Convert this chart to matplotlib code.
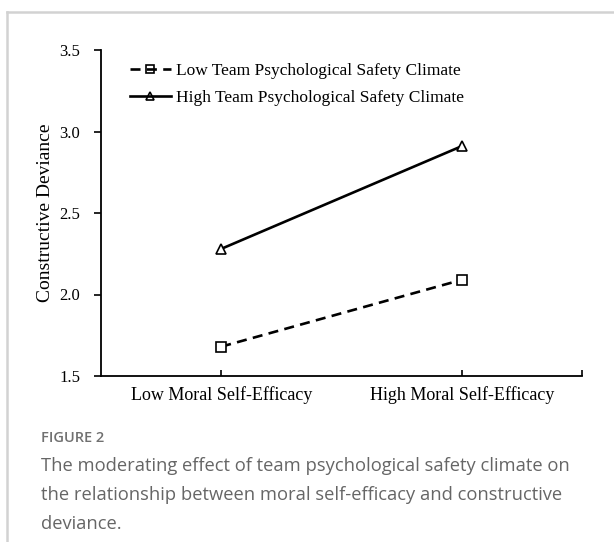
import matplotlib
matplotlib.use("Agg")
from matplotlib import pyplot as plt
from matplotlib.lines import Line2D

# data
categories = ['Low Moral Self-Efficacy', 'High Moral Self-Efficacy']
low_climate = [1.68, 2.09]
high_climate = [2.28, 2.91]
series_names = ['Low Team Psychological Safety Climate',
                'High Team Psychological Safety Climate']
y_ticks = [1.5, 2.0, 2.5, 3.0, 3.5]

W, H = 614, 542
fig = plt.figure(figsize=(W / 100, H / 100), dpi=100)
fig.patch.set_facecolor('white')

# page frame (top and left grey border)
fig.add_artist(Line2D([7 / W, 7 / W], [0, 1 - 12 / H], color='#d2d2d2', lw=1.8))
fig.add_artist(Line2D([7 / W, 1], [1 - 12 / H, 1 - 12 / H], color='#d2d2d2', lw=1.8))

ax = fig.add_axes([101 / W, 1 - 376 / H, (582 - 101) / W, (376 - 50) / H])
x = list(range(len(categories)))

serif = ['Liberation Serif', 'DejaVu Serif']
ax.plot(x, low_climate, color='black', lw=1.9, ls=(0, (3.8, 2.4)),
        marker='s', ms=7.5, mfc='white', mec='black', mew=1.2, label=series_names[0])
ax.plot(x, high_climate, color='black', lw=1.9, ls='-',
        marker='^', ms=7.5, mfc='white', mec='black', mew=1.2, label=series_names[1])

ax.set_xlim(-0.5, 1.5)
ax.set_ylim(1.5, 3.5)
ax.set_yticks(y_ticks)
ax.set_yticklabels([f'{v:.1f}' for v in y_ticks], fontfamily=serif, fontsize=12)
ax.set_xticks(x + [1.5])
ax.set_xticklabels(categories + [''], fontfamily=serif, fontsize=13)
ax.tick_params(axis='y', direction='out', length=5, width=1.2, pad=10)
ax.tick_params(axis='x', direction='in', length=4, width=1.2, pad=7)
for s in ['top', 'right']:
    ax.spines[s].set_visible(False)
for s in ['left', 'bottom']:
    ax.spines[s].set_linewidth(1.3)
ax.set_ylabel('Constructive Deviance', fontfamily=serif, fontsize=14, labelpad=4)

leg = ax.legend(loc='upper left', bbox_to_anchor=(0.027, 1.008), frameon=False,
                prop={'family': serif, 'size': 12.5}, handlelength=2.4,
                handletextpad=0.3, labelspacing=0.6, markerscale=0.85)
for h in leg.legend_handles:
    h.set_markerfacecolor('none')

# caption
cap_font = ['Open Sans', 'DejaVu Sans']
fig.text(41 / W, 1 - 438 / H, 'FIGURE 2', fontfamily=cap_font, fontsize=10.5,
         color='#707070', fontweight='semibold', va='center')
caption = ['The moderating effect of team psychological safety climate on',
           'the relationship between moral self-efficacy and constructive',
           'deviance.']
for i, line in enumerate(caption):
    fig.text(41 / W, 1 - (466 + 29 * i) / H, line, fontfamily=cap_font,
             fontsize=13.2, color='#666666', va='center')

fig.savefig('out.png', dpi=100)
